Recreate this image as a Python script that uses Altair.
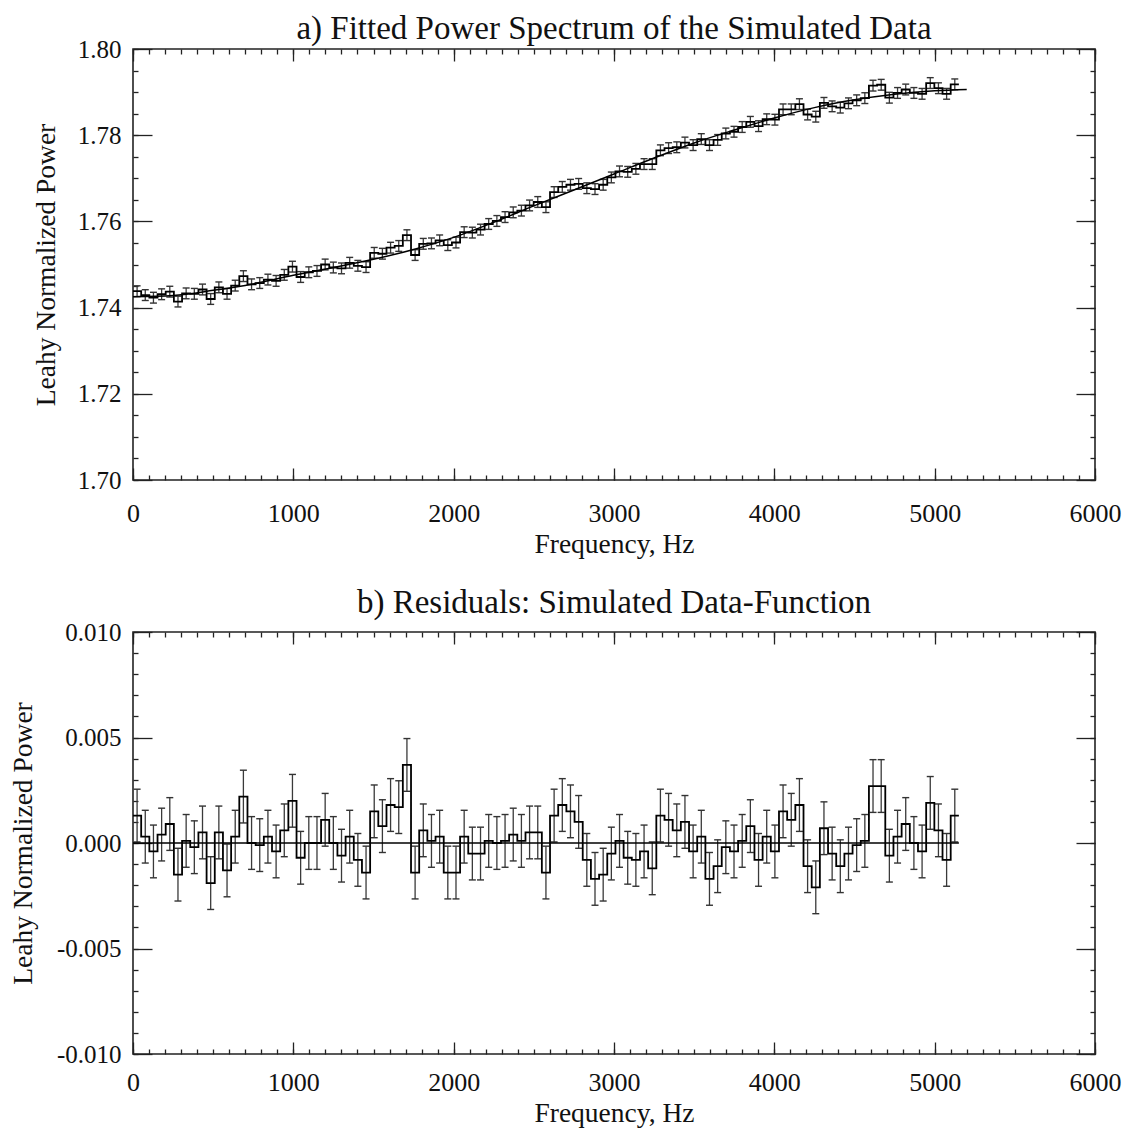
import altair as alt
import pandas as pd

# ---------------- data ----------------
BIN_WIDTH = 51.0  # Hz per spectral bin

RESIDUALS = [
    0.0013, 0.0003, -0.0004, 0.0004, 0.0009, -0.0015, 0.0001, -0.0002, 0.0005, -0.0019,
    0.0005, -0.0013, 0.0003, 0.0022, 0.0000, -0.0001, 0.0003, -0.0004, 0.0006, 0.0020,
    -0.0007, 0.0000, 0.0000, 0.0011, 0.0000, -0.0006, 0.0003, -0.0008, -0.0014, 0.0015,
    0.0008, 0.0018, 0.0017, 0.0037, -0.0014, 0.0006, 0.0001, 0.0003, -0.0014, -0.0014,
    0.0003, -0.0005, -0.0005, 0.0001, 0.0000, 0.0001, 0.0004, 0.0001, 0.0005, 0.0005,
    -0.0014, 0.0013, 0.0018, 0.0015, 0.0010, -0.0008, -0.0017, -0.0015, -0.0005, 0.0001,
    -0.0007, -0.0008, -0.0004, -0.0012, 0.0013, 0.0011, 0.0006, 0.0010, -0.0004, 0.0003,
    -0.0017, -0.0011, -0.0002, -0.0004, 0.0001, 0.0008, -0.0008, 0.0003, -0.0004, 0.0015,
    0.0011, 0.0018, -0.0011, -0.0021, 0.0007, -0.0005, -0.0011, -0.0005, -0.0001, 0.0001,
    0.0027, 0.0027, -0.0006, 0.0003, 0.0009, 0.0000, -0.0004, 0.0019, 0.0006, -0.0008,
    0.0013,
]

POWER = [
    1.7438, 1.7429, 1.7423, 1.7431, 1.7437, 1.7414, 1.7433, 1.7432, 1.7442, 1.7420,
    1.7447, 1.7432, 1.7451, 1.7473, 1.7454, 1.7457, 1.7465, 1.7462, 1.7476, 1.7495,
    1.7471, 1.7482, 1.7485, 1.7500, 1.7493, 1.7491, 1.7504, 1.7497, 1.7494, 1.7527,
    1.7525, 1.7539, 1.7543, 1.7568, 1.7522, 1.7548, 1.7549, 1.7556, 1.7545, 1.7551,
    1.7575, 1.7574, 1.7581, 1.7594, 1.7601, 1.7610, 1.7621, 1.7625, 1.7637, 1.7645,
    1.7633, 1.7668, 1.7680, 1.7685, 1.7687, 1.7677, 1.7675, 1.7685, 1.7702, 1.7716,
    1.7715, 1.7722, 1.7733, 1.7733, 1.7765, 1.7770, 1.7772, 1.7783, 1.7777, 1.7791,
    1.7777, 1.7789, 1.7804, 1.7808, 1.7819, 1.7831, 1.7821, 1.7837, 1.7836, 1.7860,
    1.7860, 1.7872, 1.7848, 1.7843, 1.7875, 1.7867, 1.7864, 1.7874, 1.7881, 1.7886,
    1.7915, 1.7917, 1.7887, 1.7898, 1.7906, 1.7898, 1.7896, 1.7921, 1.7909, 1.7896,
    1.7918,
]

SIGMA = 0.00125  # error bar half-length

MODEL_FREQ = [0, 250, 500, 750, 1000, 1250, 1500, 1750, 2000, 2250, 2500,
              2750, 3000, 3250, 3500, 3750, 4000, 4250, 4500, 4750, 5000, 5200]
MODEL_POWER = [1.7425, 1.7428, 1.7440, 1.7455, 1.7475, 1.7493, 1.7512, 1.7535,
               1.7563, 1.7598, 1.7636, 1.7673, 1.7710, 1.7747, 1.7782, 1.7812,
               1.7840, 1.7864, 1.7882, 1.7895, 1.7903, 1.7906]

ZERO_FREQ = [0, 5151]
ZERO_VALUE = [0.0, 0.0]

X_MAJOR = [0, 1000, 2000, 3000, 4000, 5000, 6000]
X_MINOR = list(range(0, 6001, 100))
TOP_Y_MAJOR = [1.70, 1.72, 1.74, 1.76, 1.78, 1.80]
TOP_Y_MINOR = [round(1.70 + 0.005 * i, 3) for i in range(21)]
BOT_Y_MAJOR = [-0.010, -0.005, 0.0, 0.005, 0.010]
BOT_Y_MINOR = [round(-0.010 + 0.001 * i, 3) for i in range(21)]

FONT = "Liberation Serif"
INK = "#111111"
W = 962


def panel(values, line_x, line_y, ydomain, ymajor, yminor, ylabel_expr, title,
          ytitle_pad, H, xlabel_pad, title_offset):
    n = len(values)
    centers = [BIN_WIDTH * (i + 0.5) for i in range(n)]
    edges = [BIN_WIDTH * i for i in range(n + 1)]
    err = pd.DataFrame({"f": centers,
                        "lo": [v - SIGMA for v in values],
                        "hi": [v + SIGMA for v in values]})
    step = pd.DataFrame({"f": edges, "v": list(values) + [values[-1]]})
    line = pd.DataFrame({"f": line_x, "v": line_y})
    dummy = pd.DataFrame({"f": [0.0], "v": [ydomain[0]]})

    xs = alt.Scale(domain=[0, 6000], nice=False, zero=False)
    ys = alt.Scale(domain=ydomain, nice=False, zero=False)

    x_main = alt.Axis(values=X_MAJOR, ticks=False, tickSize=0, domain=False, grid=False,
                      labelFlush=False, labelFont=FONT, labelFontSize=26,
                      labelPadding=xlabel_pad, labelColor=INK, format="d",
                      title="Frequency, Hz", titleFont=FONT, titleFontSize=27.5,
                      titleFontWeight="normal", titleColor=INK, titlePadding=4)
    y_main = alt.Axis(values=ymajor, ticks=False, tickSize=0, domain=False, grid=False,
                      labelFont=FONT, labelFontSize=25, labelPadding=12, labelColor=INK,
                      labelExpr=ylabel_expr, labelOverlap=False,
                      title="Leahy Normalized Power", titleFont=FONT, titleFontSize=27.5,
                      titleFontWeight="normal", titleColor=INK, titlePadding=ytitle_pad)

    bars = alt.Chart(err).mark_rule(color="#3a3a3a", strokeWidth=1.3).encode(
        x=alt.X("f:Q", scale=xs, axis=x_main),
        y=alt.Y("lo:Q", scale=ys, axis=y_main),
        y2="hi:Q")
    cap_lo = alt.Chart(err).mark_tick(orient="horizontal", size=7, thickness=1.4,
                                      color="#333333", opacity=1).encode(
        x=alt.X("f:Q", scale=xs, axis=None), y=alt.Y("lo:Q", scale=ys, axis=None))
    cap_hi = alt.Chart(err).mark_tick(orient="horizontal", size=7, thickness=1.4,
                                      color="#333333", opacity=1).encode(
        x=alt.X("f:Q", scale=xs, axis=None), y=alt.Y("hi:Q", scale=ys, axis=None))
    hist = alt.Chart(step).mark_line(interpolate="step-after", color="#000000",
                                     strokeWidth=1.8).encode(
        x=alt.X("f:Q", scale=xs, axis=None), y=alt.Y("v:Q", scale=ys, axis=None))
    model = alt.Chart(line).mark_line(interpolate="monotone", color="#000000",
                                      strokeWidth=1.5).encode(
        x=alt.X("f:Q", scale=xs, axis=None), y=alt.Y("v:Q", scale=ys, axis=None))

    def tick_layer(xorient, yorient, xvals, yvals, xsize, ysize):
        ax = alt.Axis(orient=xorient, offset=-H, values=xvals, labels=False, domain=False,
                      grid=False, ticks=True, tickSize=xsize, tickColor="#222222",
                      tickWidth=1.3, title=None)
        ay = alt.Axis(orient=yorient, offset=-W, values=yvals, labels=False, domain=False,
                      grid=False, ticks=True, tickSize=ysize, tickColor="#222222",
                      tickWidth=1.3, title=None)
        return alt.Chart(dummy).mark_point(opacity=0).encode(
            x=alt.X("f:Q", scale=xs, axis=ax), y=alt.Y("v:Q", scale=ys, axis=ay))

    layers = [
        bars, cap_lo, cap_hi, hist, model,
        tick_layer("top", "right", X_MAJOR, ymajor, 12, 19),
        tick_layer("top", "right", X_MINOR, yminor, 5, 5),
        tick_layer("bottom", "left", X_MAJOR, ymajor, 12, 19),
        tick_layer("bottom", "left", X_MINOR, yminor, 5, 5),
    ]
    return alt.layer(*layers).resolve_axis(x="independent", y="independent").properties(
        width=W, height=H,
        title=alt.TitleParams(title, font=FONT, fontSize=33, fontWeight="normal",
                              anchor="middle", offset=title_offset, color=INK))


top = panel(POWER, MODEL_FREQ, MODEL_POWER, [1.70, 1.80], TOP_Y_MAJOR, TOP_Y_MINOR,
            "format(datum.value, '.2f')",
            "a) Fitted Power Spectrum of the Simulated Data", 17, 431, 20, -9)
bottom = panel(RESIDUALS, ZERO_FREQ, ZERO_VALUE, [-0.010, 0.010], BOT_Y_MAJOR, BOT_Y_MINOR,
               "replace(format(datum.value, '.3f'), '\u2212', '-')",
               "b) Residuals: Simulated Data-Function", 19, 422, 15, 0)

chart = alt.vconcat(top, bottom, spacing=27).properties(
    padding={"left": 0, "top": 4, "right": 0, "bottom": 0}
).configure_view(stroke="#222222", strokeWidth=1.6)

chart.save("out.html", embed_options={"renderer": "svg", "actions": False})
